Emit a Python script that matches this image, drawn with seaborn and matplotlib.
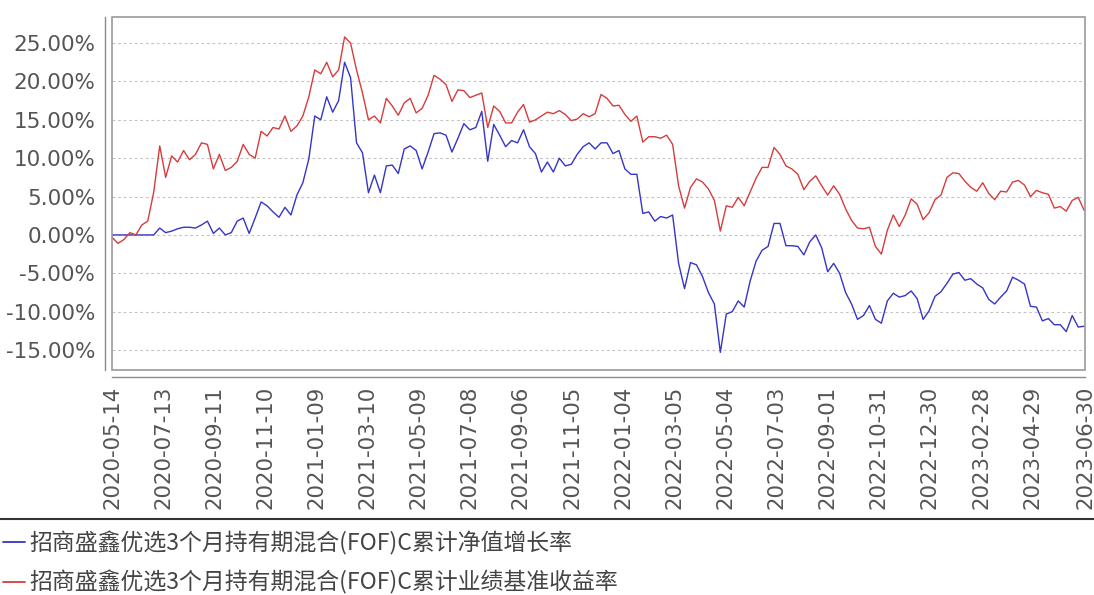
import pandas as pd
import matplotlib
matplotlib.use("Agg")
import matplotlib.pyplot as plt
from matplotlib.lines import Line2D
from matplotlib.patches import Rectangle
from matplotlib.ticker import FuncFormatter
import seaborn as sns

# weekly readings of the two cumulative return series (%)
start_date = "2020-05-14"
end_date = "2023-06-30"

nav_growth = [
    0, 0, 0, 0, 0, 0, 0, 0, 0.9, 0.3,
    0.5, 0.8, 1.0, 1.0, 0.9, 1.3, 1.8, 0.2, 0.9, 0.0,
    0.3, 1.8, 2.2, 0.2, 2.2, 4.3, 3.8, 3.0, 2.3, 3.6,
    2.6, 5.2, 6.8, 9.9, 15.5, 15.0, 18.0, 16.0, 17.5, 22.5,
    20.5, 12.0, 10.7, 5.5, 7.8, 5.5, 9.0, 9.1, 8.0, 11.2,
    11.6, 11.0, 8.6, 10.8, 13.2, 13.3, 13.0, 10.8, 12.6, 14.5,
    13.7, 14.0, 16.1, 9.6, 14.4, 13.0, 11.5, 12.3, 12.0, 13.7,
    11.5, 10.6, 8.2, 9.5, 8.2, 10.0, 9.0, 9.2, 10.5, 11.5,
    12.0, 11.2, 12.0, 12.0, 10.6, 11.0, 8.6, 7.9, 7.9, 2.8,
    3.0, 1.8, 2.4, 2.2, 2.6, -3.7, -7.0, -3.6, -3.9, -5.4,
    -7.5, -9.0, -15.3, -10.3, -10.0, -8.6, -9.4, -6.0, -3.4, -2.0,
    -1.5, 1.5, 1.5, -1.4, -1.4, -1.5, -2.6, -0.9, 0.0, -1.7,
    -4.8, -3.7, -5.0, -7.5, -9.0, -11.0, -10.5, -9.2, -11.0, -11.5,
    -8.6, -7.6, -8.1, -7.9, -7.3, -8.3, -11.0, -9.9, -8.0, -7.4,
    -6.3, -5.1, -4.9, -5.9, -5.7, -6.4, -6.9, -8.4, -9.0, -8.1,
    -7.3, -5.5, -5.9, -6.4, -9.3, -9.4, -11.2, -10.9, -11.7, -11.7,
    -12.6, -10.5, -12.0, -11.9,
]

benchmark = [
    -0.3, -1.1, -0.6, 0.3, 0.0, 1.3, 1.8, 5.6, 11.6, 7.5,
    10.3, 9.5, 11.0, 9.8, 10.5, 12.0, 11.8, 8.6, 10.5, 8.4,
    8.8, 9.6, 11.8, 10.5, 10.0, 13.5, 12.9, 14.0, 13.8, 15.5,
    13.5, 14.2, 15.5, 18.0, 21.5, 21.0, 22.5, 20.6, 21.5, 25.8,
    25.0, 21.5, 18.5, 15.0, 15.5, 14.6, 17.8, 16.8, 15.6, 17.2,
    17.8, 15.9, 16.5, 18.2, 20.8, 20.3, 19.6, 17.4, 18.9, 18.8,
    17.9, 18.2, 18.5, 14.0, 16.8, 16.1, 14.6, 14.6, 16.0, 17.0,
    14.7, 15.0, 15.5, 16.0, 15.8, 16.2, 15.7, 14.9, 15.1, 15.8,
    15.4, 15.8, 18.3, 17.8, 16.8, 16.9, 15.7, 14.8, 15.5, 12.1,
    12.8, 12.8, 12.6, 13.0, 11.8, 6.4, 3.5, 6.2, 7.3, 6.9,
    6.0, 4.5, 0.5, 3.8, 3.6, 4.9, 3.8, 5.6, 7.4, 8.8,
    8.8, 11.4, 10.5, 9.0, 8.6, 7.9, 5.9, 7.0, 7.7, 6.4,
    5.2, 6.4, 5.3, 3.4, 1.9, 0.9, 0.8, 1.0, -1.5, -2.5,
    0.6, 2.6, 1.1, 2.6, 4.7, 4.0, 2.0, 2.9, 4.6, 5.2,
    7.5, 8.1, 8.0, 7.0, 6.2, 5.7, 6.8, 5.4, 4.6, 5.7,
    5.6, 6.9, 7.1, 6.5, 5.0, 5.8, 5.5, 5.3, 3.5, 3.7,
    3.1, 4.5, 4.9, 3.2,
]

series_names = [
    "招商盛鑫优选3个月持有期混合(FOF)C累计净值增长率",
    "招商盛鑫优选3个月持有期混合(FOF)C累计业绩基准收益率",
]
series_colors = ["#3535c8", "#d63c3c"]

x_tick_labels = [
    "2020-05-14", "2020-07-13", "2020-09-11", "2020-11-10", "2021-01-09",
    "2021-03-10", "2021-05-09", "2021-07-08", "2021-09-06", "2021-11-05",
    "2022-01-04", "2022-03-05", "2022-05-04", "2022-07-03", "2022-09-01",
    "2022-10-31", "2022-12-30", "2023-02-28", "2023-04-29", "2023-06-30",
]
y_ticks = [-15, -10, -5, 0, 5, 10, 15, 20, 25]


def main():
    dates = pd.date_range(start_date, periods=len(nav_growth), freq="7D")
    df = pd.concat([
        pd.DataFrame({"date": dates, "value": nav_growth, "series": series_names[0]}),
        pd.DataFrame({"date": dates, "value": benchmark, "series": series_names[1]}),
    ])

    sns.set_style("white")
    plt.rcParams["font.family"] = ["DejaVu Sans", "Noto Sans CJK SC"]

    fig = plt.figure(figsize=(10.94, 5.95), dpi=100)
    ax = fig.add_axes([112 / 1094, 1 - 370 / 595, 973 / 1094, 353 / 595])

    sns.lineplot(data=df, x="date", y="value", hue="series",
                 hue_order=series_names, palette=series_colors,
                 linewidth=1.0, legend=False, ax=ax, zorder=3)

    ax.set_xlim(pd.Timestamp(start_date), pd.Timestamp(end_date))
    ax.set_ylim(-17.6, 28.4)
    ax.set_xlabel("")
    ax.set_ylabel("")

    ax.set_yticks(y_ticks)
    ax.yaxis.set_major_formatter(FuncFormatter(lambda v, p: f"{v:.2f}%"))
    ax.set_xticks(pd.to_datetime(x_tick_labels))
    ax.set_xticklabels(x_tick_labels)

    ax.grid(axis="y", color="#c4c4c4", linestyle=(0, (2.5, 2.5)), linewidth=0.8)
    ax.grid(axis="x", visible=False)
    ax.set_axisbelow(True)

    # offset axis lines plus the plot frame
    for side in ["left", "bottom"]:
        ax.spines[side].set_position(("outward", 5))
        ax.spines[side].set_color("#8a8a8a")
        ax.spines[side].set_linewidth(1.0)
    for side in ["top", "right"]:
        ax.spines[side].set_visible(False)
    ax.add_patch(Rectangle((0, 0), 1, 1, transform=ax.transAxes, fill=False,
                           edgecolor="#9a9a9a", linewidth=1.2, clip_on=False, zorder=5))

    ax.tick_params(axis="both", which="major", direction="out", length=4,
                   width=1.0, color="#8a8a8a", labelcolor="#555555")
    ax.tick_params(axis="y", labelsize=15.5, pad=3)
    ax.tick_params(axis="x", labelsize=15.3, pad=2, labelrotation=90)

    # separator and legend underneath
    fig.add_artist(Line2D([0, 1], [1 - 519 / 595, 1 - 519 / 595],
                          transform=fig.transFigure, color="#333333", linewidth=1.5))
    handles = [Line2D([], [], color=c, linewidth=1.3) for c in series_colors]
    fig.legend(handles, series_names, loc="upper left",
               bbox_to_anchor=(3 / 1094, 1 - 531 / 595), bbox_transform=fig.transFigure,
               frameon=False, borderaxespad=0, borderpad=0, handlelength=0.95,
               handletextpad=0.2, labelspacing=0.66, labelcolor="#444444",
               prop={"family": ["Noto Sans CJK SC"], "size": 16.5})

    fig.savefig("out.png", dpi=100)
    plt.close(fig)


if __name__ == "__main__":
    main()
